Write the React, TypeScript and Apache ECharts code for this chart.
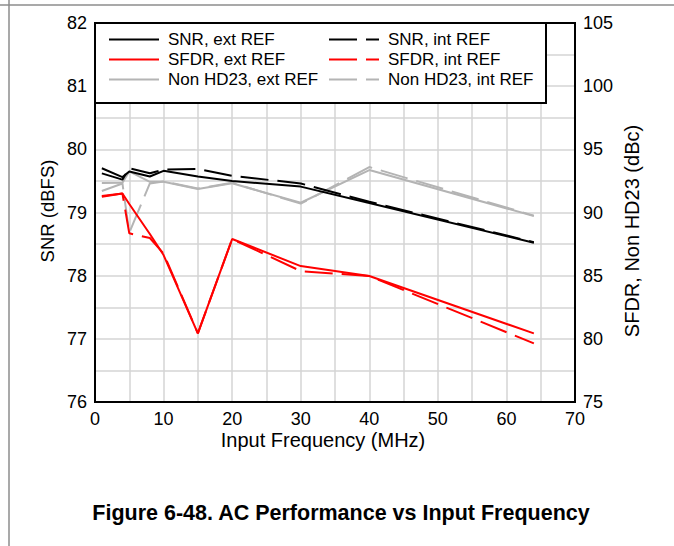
import React, { useEffect, useRef } from "react";
import * as echarts from "echarts";

const freqs = [1, 4, 5, 8, 10, 15, 20, 30, 40, 64];
const snrExt = [79.7, 79.56, 79.65, 79.57, 79.66, 79.57, 79.5, 79.41, 79.15, 78.52];
const snrInt = [79.62, 79.52, 79.7, 79.62, 79.68, 79.69, 79.58, 79.46, 79.17, 78.53];
const sfdrExt = [91.25, 91.5, 90.67, 88.3, 86.63, 80.43, 87.9, 85.76, 84.97, 80.43];
const sfdrInt = [91.3, 91.5, 88.35, 87.98, 86.75, 80.43, 87.9, 85.36, 84.97, 79.64];
const hd23Ext = [92.33, 92.35, 93.25, 92.43, 92.43, 91.86, 92.31, 90.77, 93.36, 89.72];
const hd23Int = [91.7, 92.3, 88.4, 92.3, 92.45, 91.9, 92.35, 90.7, 93.6, 89.75];

const seriesNames = [
  "SNR, ext REF",
  "SNR, int REF",
  "SFDR, ext REF",
  "SFDR, int REF",
  "Non HD23, ext REF",
  "Non HD23, int REF",
];

const xTitle = "Input Frequency (MHz)";
const yLeftTitle = "SNR (dBFS)";
const yRightTitle = "SFDR, Non HD23 (dBc)";
const figTitle = "Figure 6-48. AC Performance vs Input Frequency";

const FONT = "'Liberation Sans', Arial, sans-serif";
const GRID = "#d4d4d4";
const GRAY = "#b4b4b4";
const DASH = [28, 9];

export default function App() {
  const ref = useRef<HTMLDivElement>(null);
  useEffect(() => {
    if (!ref.current) return;
    const chart = echarts.init(ref.current, null, { renderer: "svg" });
    const mk = (name: string, vals: number[], color: string, dashed: boolean, yi: number) => ({
      name,
      type: "line",
      yAxisIndex: yi,
      symbol: "none",
      data: freqs.map((f, i) => [f, vals[i]]),
      lineStyle: { color, width: 2, type: dashed ? DASH : "solid" },
      itemStyle: { color },
      emphasis: { disabled: true },
    });
    const legendCommon = {
      orient: "vertical",
      itemWidth: 50,
      itemHeight: 17,
      itemGap: 3,
      padding: 0,
      selectedMode: false,
      z: 10,
      itemStyle: { color: "transparent", borderWidth: 0, opacity: 0 },
      textStyle: { fontFamily: FONT, fontSize: 17, color: "#000", padding: [0, 0, 0, 4] },
    };
    chart.setOption({
      animation: false,
      backgroundColor: "#fff",
      grid: { left: 95, top: 23, width: 480, height: 379, show: false },
      legend: [
        { ...legendCommon, left: 108, top: 31, data: [seriesNames[0], seriesNames[2], seriesNames[4]] },
        { ...legendCommon, left: 328, top: 31, data: [seriesNames[1], seriesNames[3], seriesNames[5]] },
      ],
      xAxis: {
        type: "value",
        min: 0,
        max: 70,
        interval: 10,
        axisLine: { show: true, lineStyle: { color: "#000", width: 2 } },
        axisTick: { show: false },
        axisLabel: { fontFamily: FONT, fontSize: 18, color: "#000", margin: 8 },
        splitLine: { show: true, lineStyle: { color: GRID, width: 1.5 } },
        minorTick: { show: false, splitNumber: 2 },
        minorSplitLine: { show: true, lineStyle: { color: GRID, width: 1.5 } },
      },
      yAxis: [
        {
          type: "value",
          position: "left",
          min: 76,
          max: 82,
          interval: 1,
          axisLine: { show: true, lineStyle: { color: "#000", width: 2 } },
          axisTick: { show: false },
          axisLabel: { fontFamily: FONT, fontSize: 18, color: "#000", margin: 8 },
          splitLine: { show: true, lineStyle: { color: GRID, width: 1.5 } },
          minorTick: { show: false, splitNumber: 2 },
          minorSplitLine: { show: true, lineStyle: { color: GRID, width: 1.5 } },
        },
        {
          type: "value",
          position: "right",
          min: 75,
          max: 105,
          interval: 5,
          axisLine: { show: true, lineStyle: { color: "#000", width: 2 } },
          axisTick: { show: false },
          axisLabel: { fontFamily: FONT, fontSize: 18, color: "#000", margin: 8 },
          splitLine: { show: false },
        },
      ],
      series: [
        mk(seriesNames[4], hd23Ext, GRAY, false, 1),
        mk(seriesNames[5], hd23Int, GRAY, true, 1),
        mk(seriesNames[0], snrExt, "#000", false, 0),
        mk(seriesNames[1], snrInt, "#000", true, 0),
        mk(seriesNames[2], sfdrExt, "#ff0000", false, 1),
        mk(seriesNames[3], sfdrInt, "#ff0000", true, 1),
      ],
      graphic: [
        { type: "line", z: 1, shape: { x1: 0, y1: 5, x2: 674, y2: 5 }, style: { stroke: "#8c8c8c", lineWidth: 1.5 } },
        { type: "line", z: 1, shape: { x1: 9, y1: 0, x2: 9, y2: 546 }, style: { stroke: "#8c8c8c", lineWidth: 1.5 } },
        { type: "rect", z: 5, shape: { x: 95, y: 23, width: 451, height: 80 }, style: { fill: "#fff", stroke: "#000", lineWidth: 2 } },
        { type: "rect", z: 6, shape: { x: 95, y: 23, width: 480, height: 379 }, style: { fill: "none", stroke: "#000", lineWidth: 2 } },
        {
          type: "text", z: 6, x: 47, y: 211, rotation: Math.PI / 2,
          style: { text: yLeftTitle, fontFamily: FONT, fontSize: 18.5, fill: "#000", align: "center", verticalAlign: "middle" },
        },
        {
          type: "text", z: 6, x: 632, y: 231, rotation: Math.PI / 2,
          style: { text: yRightTitle, fontFamily: FONT, fontSize: 20, fill: "#000", align: "center", verticalAlign: "middle" },
        },
        {
          type: "text", z: 6, x: 323, y: 440,
          style: { text: xTitle, fontFamily: FONT, fontSize: 20, fill: "#000", align: "center", verticalAlign: "middle" },
        },
        {
          type: "text", z: 6, x: 341, y: 513,
          style: { text: figTitle, fontFamily: FONT, fontSize: 21.5, fontWeight: "bold", fill: "#000", align: "center", verticalAlign: "middle" },
        },
      ],
    });
    return () => chart.dispose();
  }, []);
  return <div ref={ref} style={{ position: "fixed", left: 0, top: 0, width: 674, height: 546 }} />;
}
